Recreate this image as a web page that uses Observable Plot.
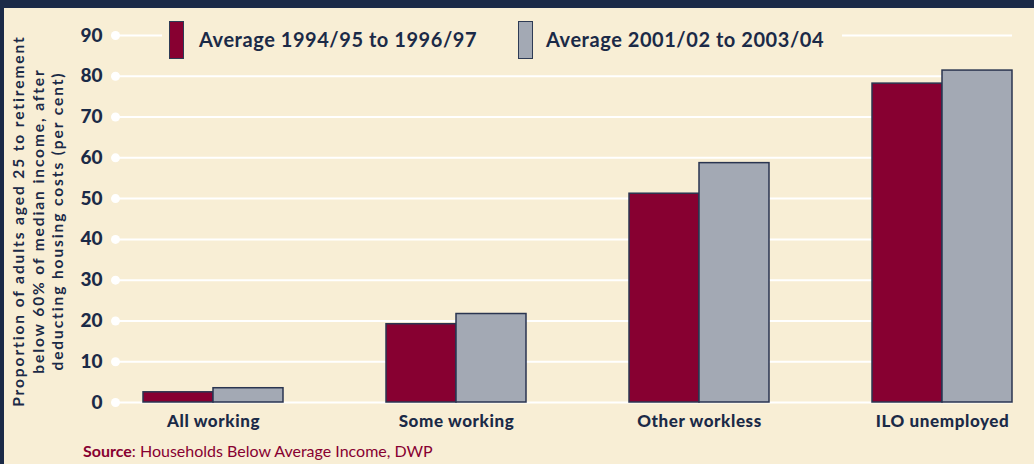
<!DOCTYPE html>
<html>
<head>
<meta charset="utf-8">
<script src="https://cdn.jsdelivr.net/npm/d3@7"></script>
<script src="https://cdn.jsdelivr.net/npm/@observablehq/plot@0.6"></script>
<style>
  html, body { margin: 0; padding: 0; background: #F8EED5; }
  #wrap { position: relative; width: 1034px; height: 464px; background: #F8EED5; overflow: hidden; font-family: Lato, "Open Sans", sans-serif; }
  #topbar { position: absolute; left: 0; top: 0; width: 1034px; height: 8px; background: #1B2A47; }
  #leftbar { position: absolute; left: 0; top: 0; width: 4px; height: 464px; background: #1B2A47; }
  #chart { position: absolute; left: 0; top: 0; }
  #chart svg [aria-label^="y-axis"] text { font-size: 19px; font-weight: 900; fill: #1B2A47; }
  #chart svg [aria-label^="x-axis"] text { font-size: 17px; font-weight: 900; fill: #1B2A47; letter-spacing: 0.6px; }
  #legend { position: absolute; left: 162px; top: 14px; width: 680px; height: 52px; background: #F8EED5; }
  .sw { position: absolute; top: 7px; width: 13px; height: 36px; border: 1.5px solid #2E3B55; }
  .lt { position: absolute; top: 13px; font-size: 20px; font-weight: 700; letter-spacing: 0.55px; color: #1B2A47; white-space: nowrap; line-height: 24px; }
  #ytitle { position: absolute; left: 38px; top: 221px; transform: translate(-50%, -50%) rotate(-90deg); text-align: center; white-space: nowrap; font-size: 15.5px; font-weight: 700; letter-spacing: 1.9px; line-height: 19.5px; color: #1B2A47; }
  #source { position: absolute; left: 83px; top: 441px; font-size: 16px; color: #870031; white-space: nowrap; }
</style>
</head>
<body>
<div id="wrap">
  <div id="chart"></div>
  <div id="topbar"></div>
  <div id="leftbar"></div>
  <div id="legend"></div>
  <div id="ytitle"></div>
  <div id="source"></div>
</div>
<script>
const categories = ["All working", "Some working", "Other workless", "ILO unemployed"];
const seriesNames = ["Average 1994/95 to 1996/97", "Average 2001/02 to 2003/04"];
const avg1994 = [2.5, 19.2, 51.2, 78.2];
const avg2001 = [3.5, 21.7, 58.7, 81.4];
const yTicks = [0, 10, 20, 30, 40, 50, 60, 70, 80, 90];
const yTitleLines = ["Proportion of adults aged 25 to retirement", "below 60% of median income, after", "deducting housing costs (per cent)"];
const sourceLabel = "Source";
const sourceText = ": Households Below Average Income, DWP";

const colors = ["#870031", "#A3A9B4"];
const navy = "#1B2A47";
const half = 70;

const chart = Plot.plot({
  width: 1034,
  height: 440,
  marginLeft: 115,
  marginRight: 22,
  marginTop: 35,
  marginBottom: 38,
  style: { background: "transparent", fontFamily: "Lato, 'Open Sans', sans-serif", color: navy },
  x: { domain: categories, range: [142, 1012], paddingInner: 0.4245, paddingOuter: 0, tickSize: 0, tickPadding: 12, label: null },
  y: { domain: [0, 90], ticks: yTicks, tickSize: 0, tickPadding: 13, label: null },
  marks: [
    Plot.ruleY(yTicks, { stroke: "white", strokeWidth: 2 }),
    Plot.dot(yTicks, { y: d => d, frameAnchor: "left", r: 4.5, fill: "white", stroke: null }),
    Plot.barY(avg1994, { x: (d, i) => categories[i], y: d => d, fill: colors[0], stroke: "#2A3550", strokeWidth: 1.5, insetRight: half }),
    Plot.barY(avg2001, { x: (d, i) => categories[i], y: d => d, fill: colors[1], stroke: "#2A3550", strokeWidth: 1.5, insetLeft: half })
  ]
});
document.getElementById("chart").appendChild(chart);

// legend
const legend = document.getElementById("legend");
const swX = [7, 356];
const txX = [37, 384];
seriesNames.forEach((name, i) => {
  const sw = document.createElement("div");
  sw.className = "sw";
  sw.style.left = swX[i] + "px";
  sw.style.background = colors[i];
  legend.appendChild(sw);
  const t = document.createElement("div");
  t.className = "lt";
  t.style.left = txX[i] + "px";
  t.textContent = name;
  legend.appendChild(t);
});

document.getElementById("ytitle").innerHTML = yTitleLines.join("<br>");
const src = document.getElementById("source");
const b = document.createElement("b");
b.textContent = sourceLabel;
src.appendChild(b);
src.appendChild(document.createTextNode(sourceText));
</script>
</body>
</html>
